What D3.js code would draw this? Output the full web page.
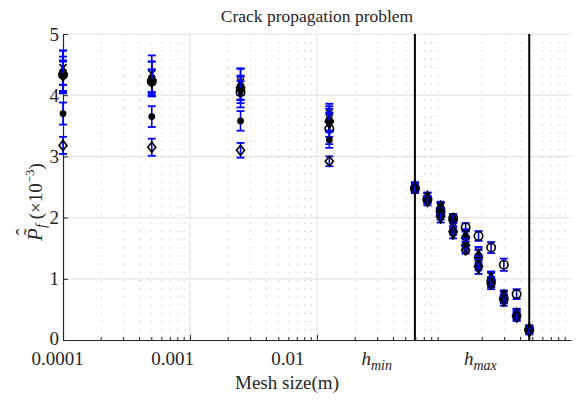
<!DOCTYPE html>
<html>
<head>
<meta charset="utf-8">
<script src="https://cdn.jsdelivr.net/npm/d3@7"></script>
<style>
  body { margin: 0; background: #fff; }
  svg { display: block; }
  text { font-family: "Liberation Serif", "DejaVu Serif", serif; fill: #262626; }
</style>
</head>
<body>
<div id="chart"></div>
<script>
// mesh sizes (m)
const hValues = [1e-4, 5e-4, 2.5e-3, 1.25e-2, 0.059, 0.074, 0.094, 0.118, 0.148, 0.187, 0.235, 0.296, 0.373, 0.469];
const hMin = 0.059;
const hMax = 0.469;

// estimated failure probability (x1e-3) for each marker series
const crossVals    = [4.45, 4.35, 4.22, 3.72, 2.52, 2.35, 2.18, 1.98, 1.75, 1.45, 1.05, 0.74, 0.46, 0.19];
const triUpVals    = [4.40, 4.30, 4.18, 3.62, 2.53, 2.36, 2.20, 2.00, 1.72, 1.40, 1.03, 0.75, 0.45, 0.20];
const starVals     = [4.37, 4.27, 4.12, 3.60, 2.48, 2.30, 2.07, 1.85, 1.60, 1.30, 0.95, 0.68, 0.40, 0.16];
const circleVals   = [4.33, 4.22, 4.05, 3.45, 2.47, 2.30, 2.10, 1.99, 1.84, 1.70, 1.51, 1.23, 0.75, 0.17];
const triDownVals  = [4.30, 4.20, 4.05, 3.52, 2.45, 2.25, 1.98, 1.72, 1.50, 1.15, 0.90, 0.62, 0.36, 0.13];
const dotVals      = [3.70, 3.65, 3.58, 3.27, 2.50, 2.30, 2.10, 1.80, 1.55, 1.25, 0.97, 0.70, 0.42, 0.17];
const diamondVals  = [3.18, 3.15, 3.10, 2.92, 2.47, 2.28, 2.02, 1.77, 1.47, 1.20, 0.92, 0.65, 0.38, 0.15];

// error bar half widths
const crossErr   = [0.28, 0.30, 0.22, 0.14, 0.05, 0.05, 0.06, 0.06, 0.06, 0.07, 0.07, 0.06, 0.05, 0.04];
const triUpErr   = [0.33, 0.25, 0.25, 0.20, 0.05, 0.05, 0.06, 0.06, 0.07, 0.07, 0.07, 0.06, 0.05, 0.04];
const starErr    = [0.20, 0.28, 0.20, 0.18, 0.05, 0.05, 0.06, 0.06, 0.06, 0.07, 0.07, 0.06, 0.05, 0.04];
const circleErr  = [0.30, 0.20, 0.18, 0.25, 0.05, 0.05, 0.06, 0.06, 0.07, 0.08, 0.09, 0.10, 0.08, 0.04];
const triDownErr = [0.25, 0.22, 0.25, 0.20, 0.05, 0.05, 0.06, 0.06, 0.06, 0.07, 0.07, 0.06, 0.05, 0.04];
const dotErr     = [0.18, 0.17, 0.16, 0.13, 0.05, 0.05, 0.05, 0.06, 0.06, 0.06, 0.06, 0.05, 0.05, 0.04];
const diamondErr = [0.14, 0.14, 0.12, 0.08, 0.05, 0.05, 0.05, 0.05, 0.06, 0.06, 0.06, 0.05, 0.05, 0.04];

const series = [
  { marker: "cross", vals: crossVals, err: crossErr },
  { marker: "triUp", vals: triUpVals, err: triUpErr },
  { marker: "star", vals: starVals, err: starErr },
  { marker: "circle", vals: circleVals, err: circleErr },
  { marker: "triDown", vals: triDownVals, err: triDownErr },
  { marker: "dot", vals: dotVals, err: dotErr },
  { marker: "diamond", vals: diamondVals, err: diamondErr }
];

const xTicks = [1e-4, 1e-3, 1e-2, hMin, hMax];
const yTicks = [0, 1, 2, 3, 4, 5];

const width = 576, height = 401;
const pLeft = 63, pRight = 571, pTop = 34, pBottom = 340;

const svg = d3.select("#chart").append("svg")
  .attr("width", width)
  .attr("height", height);

const x = d3.scaleLog().domain([1e-4, 1]).range([pLeft, pRight]);
const y = d3.scaleLinear().domain([0, 5]).range([pBottom, pTop]);

// minor vertical grid (dotted)
const minorX = [];
for (let d = -4; d < 0; d++) {
  for (let k = 2; k <= 9; k++) minorX.push(k * Math.pow(10, d));
}
svg.append("g").selectAll("line")
  .data(minorX)
  .enter().append("line")
  .attr("x1", d => x(d)).attr("x2", d => x(d))
  .attr("y1", pTop).attr("y2", pBottom)
  .attr("stroke", "#c4c4c4")
  .attr("stroke-width", 1)
  .attr("stroke-dasharray", "1.2,7");

// major grid
svg.append("g").selectAll("line")
  .data(yTicks.slice(1))
  .enter().append("line")
  .attr("x1", pLeft).attr("x2", pRight)
  .attr("y1", d => y(d)).attr("y2", d => y(d))
  .attr("stroke", "#e3e3e3")
  .attr("stroke-width", 1.2);

svg.append("g").selectAll("line")
  .data(xTicks.slice(1))
  .enter().append("line")
  .attr("x1", d => x(d)).attr("x2", d => x(d))
  .attr("y1", pTop).attr("y2", pBottom)
  .attr("stroke", "#e3e3e3")
  .attr("stroke-width", 1.2);

// h_min / h_max lines
svg.append("g").selectAll("line")
  .data([hMin, hMax])
  .enter().append("line")
  .attr("x1", d => x(d)).attr("x2", d => x(d))
  .attr("y1", pTop).attr("y2", pBottom)
  .attr("stroke", "#000")
  .attr("stroke-width", 2);

// axes
const xAxis = svg.append("g")
  .attr("transform", `translate(0,${pBottom})`)
  .call(d3.axisBottom(x)
    .tickValues(xTicks)
    .tickSizeInner(-5)
    .tickSizeOuter(0)
    .tickPadding(12)
    .tickFormat(d => d === hMin ? "hmin" : d === hMax ? "hmax" : String(d.toFixed(-Math.round(Math.log10(d))))));

// minor x ticks
xAxis.append("g").selectAll("line")
  .data(minorX)
  .enter().append("line")
  .attr("x1", d => x(d)).attr("x2", d => x(d))
  .attr("y1", 0).attr("y2", -3)
  .attr("stroke", "#262626");

xAxis.select(".domain").attr("stroke", "#262626").attr("stroke-width", 1.2);
xAxis.selectAll(".tick line").attr("stroke", "#262626");
xAxis.selectAll(".tick text")
  .attr("font-size", 19)
  .attr("fill", "#262626")
  .attr("x", d => -6 - 0.093 * (x(d) - pLeft))
  .each(function(d) {
    if (d === hMin || d === hMax) {
      const t = d3.select(this);
      t.text(null);
      t.append("tspan").attr("font-style", "italic").text("h");
      t.append("tspan").attr("font-style", "italic").attr("font-size", 14)
        .attr("dy", "0.3em").text(d === hMin ? "min" : "max");
    }
  });

const yAxis = svg.append("g")
  .attr("transform", `translate(${pLeft},0)`)
  .call(d3.axisLeft(y)
    .tickValues(yTicks)
    .tickSizeInner(-5)
    .tickSizeOuter(0)
    .tickPadding(4)
    .tickFormat(d3.format("d")));

yAxis.select(".domain").attr("stroke", "#262626").attr("stroke-width", 1.2);
yAxis.selectAll(".tick line").attr("stroke", "#262626");
yAxis.selectAll(".tick text")
  .attr("font-size", 19)
  .attr("fill", "#262626")
  .attr("dy", d => d === 0 ? "0.22em" : "0.32em");

// markers
function drawMarker(g, type, cx, cy) {
  const k = "#000";
  if (type === "circle") {
    g.append("circle").attr("cx", cx).attr("cy", cy).attr("r", 4.2)
      .attr("fill", "none").attr("stroke", k).attr("stroke-width", 1.6);
  } else if (type === "dot") {
    g.append("circle").attr("cx", cx).attr("cy", cy).attr("r", 3.4).attr("fill", k);
  } else if (type === "diamond") {
    g.append("path").attr("d", `M${cx},${cy - 5}L${cx + 4},${cy}L${cx},${cy + 5}L${cx - 4},${cy}Z`)
      .attr("fill", "none").attr("stroke", k).attr("stroke-width", 1.6);
  } else if (type === "triUp") {
    g.append("path").attr("d", `M${cx},${cy - 5}L${cx + 4.5},${cy + 3.5}L${cx - 4.5},${cy + 3.5}Z`)
      .attr("fill", k).attr("stroke", k).attr("stroke-width", 1);
  } else if (type === "triDown") {
    g.append("path").attr("d", `M${cx},${cy + 5}L${cx + 4.5},${cy - 3.5}L${cx - 4.5},${cy - 3.5}Z`)
      .attr("fill", k).attr("stroke", k).attr("stroke-width", 1);
  } else if (type === "cross") {
    g.append("path").attr("d", `M${cx - 3.5},${cy - 3.5}L${cx + 3.5},${cy + 3.5}M${cx - 3.5},${cy + 3.5}L${cx + 3.5},${cy - 3.5}`)
      .attr("stroke", k).attr("stroke-width", 1.6);
  } else if (type === "star") {
    g.append("path").attr("d", `M${cx - 4},${cy}L${cx + 4},${cy}M${cx},${cy - 4}L${cx},${cy + 4}M${cx - 3},${cy - 3}L${cx + 3},${cy + 3}M${cx - 3},${cy + 3}L${cx + 3},${cy - 3}`)
      .attr("stroke", k).attr("stroke-width", 1.4);
  }
}

const plot = svg.append("g");
series.forEach(s => {
  const g = plot.append("g");
  hValues.forEach((h, i) => {
    const cx = x(h);
    const lo = y(s.vals[i] - s.err[i]);
    const hi = y(s.vals[i] + s.err[i]);
    g.append("line").attr("x1", cx).attr("x2", cx).attr("y1", lo).attr("y2", hi)
      .attr("stroke", "#0000ff").attr("stroke-width", 1.6);
    [lo, hi].forEach(yy => {
      g.append("line").attr("x1", cx - 4).attr("x2", cx + 4).attr("y1", yy).attr("y2", yy)
        .attr("stroke", "#0000ff").attr("stroke-width", 1.8);
    });
    drawMarker(g, s.marker, cx, y(s.vals[i]));
  });
});

// title
svg.append("text")
  .attr("x", (pLeft + pRight) / 2)
  .attr("y", 22)
  .attr("text-anchor", "middle")
  .attr("font-size", 17.5)
  .text("Crack propagation problem");

// x label
svg.append("text")
  .attr("x", 287)
  .attr("y", 389)
  .attr("text-anchor", "middle")
  .attr("font-size", 19)
  .text("Mesh size(m)");

// y label: P with tilde and hat, subscript f
const yl = svg.append("g").attr("transform", "translate(42,187) rotate(-90)");
yl.append("text").attr("x", -54).attr("y", 0).attr("font-size", 21)
  .attr("font-style", "italic").text("P");
yl.append("text").attr("x", -45).attr("y", -4).attr("font-size", 20)
  .attr("text-anchor", "middle").text("\u02DC");
yl.append("text").attr("x", -45).attr("y", -11).attr("font-size", 20)
  .attr("text-anchor", "middle").text("\u02C6");
const ylt = yl.append("text").attr("x", -41).attr("y", 0).attr("font-size", 19);
ylt.append("tspan").attr("font-style", "italic").attr("font-size", 14).attr("dy", 4).text("f");
ylt.append("tspan").attr("dy", -4).text(" (×10");
ylt.append("tspan").attr("font-size", 13).attr("dy", -8).text("−3");
ylt.append("tspan").attr("dy", 8).text(")");
</script>
</body>
</html>
